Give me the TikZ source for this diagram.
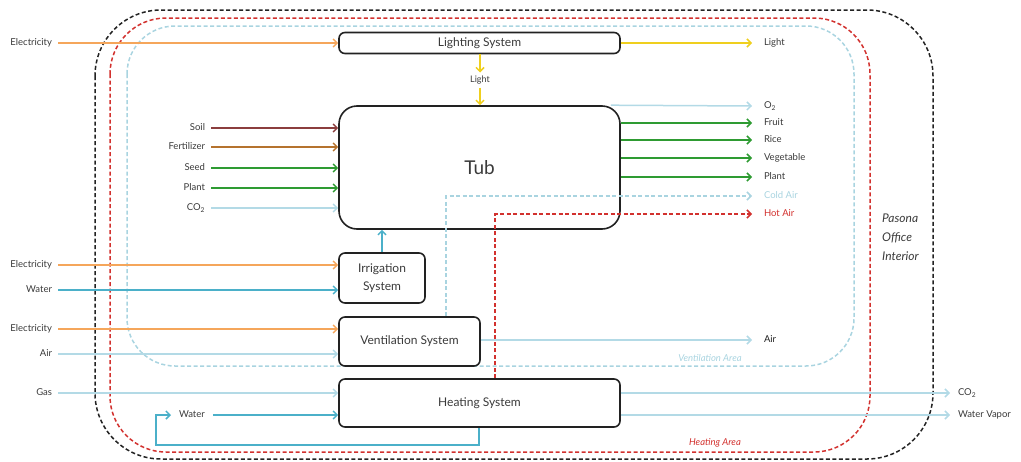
\documentclass[tikz,border=0pt]{standalone}
\usepackage{fontspec}
\setmainfont{Lato}
\usetikzlibrary{arrows.meta,calc}
\definecolor{elecC}{HTML}{F5A65B}
\definecolor{waterC}{HTML}{4BB0C9}
\definecolor{airC}{HTML}{B3DAE6}
\definecolor{greenC}{HTML}{2E9B32}
\definecolor{yellowC}{HTML}{EFCF1E}
\definecolor{soilC}{HTML}{8B3E3E}
\definecolor{fertC}{HTML}{B5732E}
\definecolor{redC}{HTML}{D2312E}
\definecolor{ventC}{HTML}{A9D4E0}
\definecolor{labelC}{HTML}{3A3A3A}
\definecolor{boxC}{HTML}{222222}
\begin{document}
\begin{tikzpicture}[x=1pt,y=-1pt,
  lbl/.style={font=\fontsize{9.5}{11}\selectfont, text=labelC, inner sep=0pt,
              text height=7pt, text depth=2pt},
  lblL/.style={lbl, anchor=east, outer xsep=6pt},
  lblR/.style={lbl, anchor=west, outer xsep=12pt},
  sys/.style={draw=boxC, line width=1.6pt, rounded corners=6pt,
              font=\fontsize{12}{18}\selectfont, text=labelC, inner sep=0pt, align=center},
  flow/.style={line width=1.5pt, -{Straight Barb[length=4pt,width=8pt]}},
  dflow/.style={flow, dash pattern=on 4pt off 2.5pt},
  area/.style={line width=1.5pt, dash pattern=on 4pt off 2.5pt, rounded corners=#1},
  areatext/.style={font=\fontsize{9.5}{11}\selectfont\itshape, inner sep=0pt}
]
\useasboundingbox (0,0) rectangle (1021,461);

% nested zones
\draw[area=66pt, boxC] (95,10) rectangle (933,459);
\draw[area=56pt, redC] (110,18) rectangle (870,452);
\draw[area=48pt, ventC] (127,26) rectangle (854,366);

\node[areatext, text=ventC] (ventarea) at (710,358) {Ventilation Area};
\node[areatext, text=redC] (heatarea) at (715,443) {Heating Area};
\node[font=\fontsize{12}{19}\selectfont\itshape, text=labelC, align=left, anchor=west, inner sep=0pt]
  (office) at (882,237) {Pasona\\Office\\Interior};

% system blocks
\node[sys, minimum width=281pt, minimum height=21pt] (lighting) at (479.5,43) {Lighting System};
\node[sys, rounded corners=18pt, minimum width=281pt, minimum height=123pt,
      font=\fontsize{19}{22}\selectfont] (tub) at (479.5,167.5) {Tub};
\node[sys, minimum width=86pt, minimum height=50pt] (irr) at (382,278) {Irrigation\\System};
\node[sys, minimum width=141pt, minimum height=49pt] (vent) at (409.5,341.5) {Ventilation System};
\node[sys, minimum width=281pt, minimum height=48pt] (heat) at (479.5,403) {Heating System};

% lighting
\node[lblL] (elec1) at (58,43) {Electricity};
\draw[flow, elecC] (elec1.east) -- (lighting.west |- elec1.east);
\node[lblR] (lightout) at (752,43) {Light};
\draw[flow, yellowC] (lighting.east |- lightout.west) -- (lightout.west);
\node[lbl, font=\fontsize{9}{10}\selectfont, outer ysep=3pt] (lightmid) at (480,80) {Light};
\draw[flow, yellowC] (lighting.south -| lightmid.north) -- (lightmid.north);
\draw[flow, yellowC] (lightmid.south) -- (lightmid.south |- tub.north);

% tub inputs
\node[lblL] (soil) at (211,128) {Soil};
\node[lblL] (fert) at (211,147) {Fertilizer};
\node[lblL] (seed) at (211,168) {Seed};
\node[lblL] (plantin) at (211,188) {Plant};
\node[lblL] (co2in) at (211,208) {CO\textsubscript{2}};
\draw[flow, soilC] (soil.east) -- (tub.west |- soil.east);
\draw[flow, fertC] (fert.east) -- (tub.west |- fert.east);
\draw[flow, greenC] (seed.east) -- (tub.west |- seed.east);
\draw[flow, greenC] (plantin.east) -- (tub.west |- plantin.east);
\draw[flow, airC] (co2in.east) -- (tub.west |- co2in.east);

% tub outputs
\node[lblR] (o2) at (752,106) {O\textsubscript{2}};
\node[lblR] (fruit) at (752,123) {Fruit};
\node[lblR] (rice) at (752,140) {Rice};
\node[lblR] (veg) at (752,158) {Vegetable};
\node[lblR] (plantout) at (752,177) {Plant};
\node[lblR, text=ventC] (cold) at (752,196) {Cold Air};
\node[lblR, text=redC] (hot) at (752,214) {Hot Air};
\draw[flow, airC] ($(tub.north east)+(-10,0)$) -- (o2.west);
\draw[flow, greenC] (tub.east |- fruit.west) -- (fruit.west);
\draw[flow, greenC] (tub.east |- rice.west) -- (rice.west);
\draw[flow, greenC] (tub.east |- veg.west) -- (veg.west);
\draw[flow, greenC] (tub.east |- plantout.west) -- (plantout.west);
\draw[dflow, ventC] ($(vent.north west)+(108,0)$) |- (cold.west);
\draw[dflow, redC] ($(heat.north west)+(157,0)$) |- (hot.west);

% irrigation
\node[lblL] (elec2) at (58,265) {Electricity};
\node[lblL] (water1) at (58,290) {Water};
\draw[flow, elecC] (elec2.east) -- (irr.west |- elec2.east);
\draw[flow, waterC] (water1.east) -- (irr.west |- water1.east);
\draw[flow, waterC] (irr.north) -- (irr.north |- tub.south);

% ventilation
\node[lblL] (elec3) at (58,329) {Electricity};
\node[lblL] (airin) at (58,354) {Air};
\draw[flow, elecC] (elec3.east) -- (vent.west |- elec3.east);
\draw[flow, airC] (airin.east) -- (vent.west |- airin.east);
\node[lblR, text=boxC] (airout) at (752,340) {Air};
\draw[flow, airC] (vent.east |- airout.west) -- (airout.west);

% heating
\node[lblL] (gas) at (58,393) {Gas};
\draw[flow, airC] (gas.east) -- (heat.west |- gas.east);
\node[lbl, anchor=west, outer xsep=8pt] (water2) at (171,415) {Water};
\draw[flow, waterC] (water2.east) -- (heat.west |- water2.east);
\draw[flow, waterC] ($(heat.south west)+(141,0)$) -- ++(0,17)
  -| ([xshift=-15pt]water2.west) -- (water2.west);
\node[lbl, anchor=west, outer xsep=8pt] (co2out) at (950,393) {CO\textsubscript{2}};
\node[lbl, anchor=west, outer xsep=8pt] (vapor) at (950,415) {Water Vapor};
\draw[flow, airC] (heat.east |- co2out.west) -- (co2out.west);
\draw[flow, airC] (heat.east |- vapor.west) -- (vapor.west);
\end{tikzpicture}
\end{document}
